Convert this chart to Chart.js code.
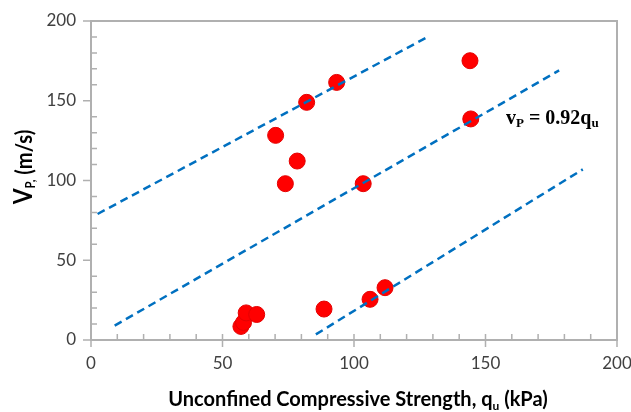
<!DOCTYPE html>
<html>
<head>
<meta charset="utf-8">
<script src="https://cdn.jsdelivr.net/npm/chart.js@4.4.0/dist/chart.umd.min.js"></script>
<style>
  html, body { margin: 0; padding: 0; background: #fff; }
  #wrap { width: 631px; height: 412px; }
</style>
</head>
<body>
<div id="wrap"><canvas id="chart" width="631" height="412"></canvas></div>
<script>
// ------------------------------
// Data
// ------------------------------
const quValues = [144.1, 93.4, 82.0, 70.2, 78.4, 73.9, 103.5, 144.4, 57, 58, 59, 63, 88.6, 106.1, 111.8];
const vpValues = [175.1, 161.5, 149.0, 128.3, 112.2, 98.0, 98.0, 138.6, 8.5, 11, 17, 16, 19.4, 25.5, 32.8];

// dashed guide lines (two end points each)
const upperX = [2.5, 128];
const upperY = [79, 190];
const midX = [9, 178];
const midY = [9, 169];
const lowerX = [85.5, 187];
const lowerY = [3.5, 107];

const xTicks = [0, 50, 100, 150, 200];
const yTicks = [0, 50, 100, 150, 200];
const minorStep = 10;

const xTitle = ['Unconfined Compressive Strength, q', 'u', ' (kPa)'];
const yTitle = ['V', 'P,', ' (m/s)'];
const eqText = ['v', 'P', ' = 0.92q', 'u'];

const AXIS_GRAY = '#b0b0b0';
const pts = (xs, ys) => xs.map((x, i) => ({ x: x, y: ys[i] }));

function dashed(xs, ys) {
    return {
        data: pts(xs, ys),
        showLine: true,
        borderColor: '#0070c0',
        borderWidth: 2.5,
        borderDash: [8, 5],
        pointRadius: 0,
        fill: false
    };
}

// draws a list of [text, font, dy] pieces one after another
function drawRun(ctx, parts, x, y) {
    parts.forEach(p => {
        ctx.font = p[1];
        ctx.fillText(p[0], x, y + p[2]);
        x += ctx.measureText(p[0]).width;
    });
}
function runWidth(ctx, parts) {
    let w = 0;
    parts.forEach(p => { ctx.font = p[1]; w += ctx.measureText(p[0]).width; });
    return w;
}

// ------------------------------
// Frame, ticks and titles
// ------------------------------
const framePlugin = {
    id: 'frame',
    beforeDatasetsDraw(chart) {
        const { ctx, chartArea: a, scales: { x, y } } = chart;
        ctx.save();
        ctx.strokeStyle = AXIS_GRAY;
        ctx.lineWidth = 2;
        ctx.strokeRect(a.left, a.top, a.right - a.left, a.bottom - a.top);

        ctx.lineWidth = 1.5;
        ctx.beginPath();
        for (let v = 0; v <= 200; v += minorStep) {
            const px = x.getPixelForValue(v);
            const py = y.getPixelForValue(v);
            if (v % 50 === 0) {
                ctx.moveTo(px, a.bottom - 6); ctx.lineTo(px, a.bottom + 7);
                ctx.moveTo(a.left - 8, py); ctx.lineTo(a.left, py);
            } else {
                ctx.moveTo(px, a.bottom - 6); ctx.lineTo(px, a.bottom);
                ctx.moveTo(a.left, py); ctx.lineTo(a.left + 6, py);
            }
        }
        ctx.stroke();
        ctx.restore();
    },
    afterDraw(chart) {
        const ctx = chart.ctx;
        ctx.save();
        ctx.fillStyle = '#000';
        ctx.textBaseline = 'alphabetic';

        // x title
        const xParts = [
            [xTitle[0], 'bold 20px Lato', 0],
            [xTitle[1], 'bold 12px Lato', 4],
            [xTitle[2], 'bold 20px Lato', 0]
        ];
        drawRun(ctx, xParts, 358 - runWidth(ctx, xParts) / 2, 406);

        // y title, rotated and a little condensed
        const yParts = [
            [yTitle[0], 'bold 26px Lato', 0],
            [yTitle[1], 'bold 13px Lato', 3],
            [yTitle[2], 'bold 23px Lato', 0]
        ];
        ctx.save();
        ctx.translate(32, 167);
        ctx.rotate(-Math.PI / 2);
        ctx.scale(0.88, 1);
        drawRun(ctx, yParts, -runWidth(ctx, yParts) / 2, 0);
        ctx.restore();

        // equation label
        drawRun(ctx, [
            [eqText[0], 'bold 20px "Liberation Serif"', 0],
            [eqText[1], 'bold 13px "Liberation Serif"', 3],
            [eqText[2], 'bold 20px "Liberation Serif"', 0],
            [eqText[3], 'bold 13px "Liberation Serif"', 3]
        ], 506, 124);
        ctx.restore();
    }
};

const tickFont = { family: 'Lato', size: 17 };

new Chart(document.getElementById('chart').getContext('2d'), {
    type: 'scatter',
    data: {
        datasets: [
            dashed(upperX, upperY),
            dashed(midX, midY),
            dashed(lowerX, lowerY),
            {
                data: pts(quValues, vpValues),
                backgroundColor: '#ff0000',
                borderColor: '#e40000',
                borderWidth: 1,
                pointRadius: 8
            }
        ]
    },
    options: {
        responsive: false,
        animation: false,
        layout: { padding: { top: 21, right: 14, left: 0, bottom: 0 } },
        plugins: { legend: { display: false }, tooltip: { enabled: false } },
        scales: {
            x: {
                type: 'linear', min: 0, max: 200,
                grid: { display: false, drawTicks: false },
                border: { display: false },
                afterBuildTicks: s => { s.ticks = xTicks.map(v => ({ value: v })); },
                ticks: { padding: 13, color: '#404040', font: tickFont, maxRotation: 0 },
                afterFit: s => { s.height = 72; s.paddingLeft = 0; s.paddingRight = 0; }
            },
            y: {
                type: 'linear', min: 0, max: 200,
                grid: { display: false, drawTicks: false },
                border: { display: false },
                afterBuildTicks: s => { s.ticks = yTicks.map(v => ({ value: v })); },
                ticks: { padding: 15, color: '#404040', font: tickFont },
                afterFit: s => { s.width = 91; s.paddingTop = 0; s.paddingBottom = 0; }
            }
        }
    },
    plugins: [framePlugin]
});
</script>
</body>
</html>
